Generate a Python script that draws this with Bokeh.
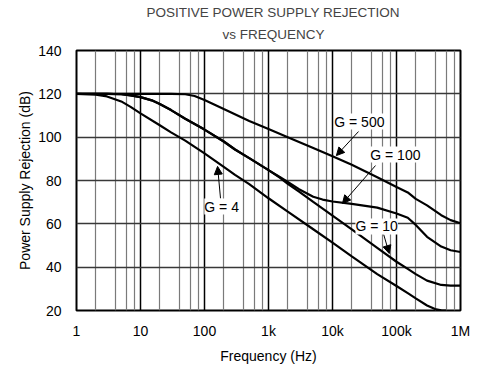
from bokeh.plotting import figure
from bokeh.models import Range1d, FixedTicker, Label, Arrow, NormalHead, Title
from bokeh.embed import file_html
from bokeh.resources import INLINE

# ---- data ----
x_ticks = [1, 10, 100, 1000, 10000, 100000, 1000000]
x_tick_labels = ["1", "10", "100", "1k", "10k", "100k", "1M"]
x_minor = [2, 4, 6, 8, 20, 40, 60, 80, 200, 400, 600, 800,
           2000, 4000, 6000, 8000, 20000, 40000, 60000, 80000,
           200000, 400000, 600000, 800000]
y_ticks = [20, 40, 60, 80, 100, 120, 140]
y_grid = [40, 60, 80, 100, 120]

freq_g500 = [1, 10, 30, 50, 70, 100, 200, 500, 1000, 2000, 5000, 10000,
             20000, 50000, 100000, 150000, 200000, 300000, 500000, 700000, 1000000]
db_g500 = [120, 120, 120, 119.8, 119, 117.2, 113, 107.5, 103.8, 100, 95, 91.2,
           87.3, 81.5, 77, 74.5, 71.5, 68.5, 64, 61.7, 60.3]

freq_g100 = [1, 3, 5, 7, 10, 15, 20, 30, 50, 100, 200, 300, 500, 1000, 1500,
             2000, 3000, 5000, 7000, 10000, 20000, 50000, 100000, 150000,
             200000, 300000, 500000, 700000, 1000000]
db_g100 = [120, 120, 119.8, 119.3, 118.5, 117, 115.3, 112.5, 108.5, 103.5, 98,
           94.3, 90.3, 84.8, 81.6, 79.3, 76, 72.5, 71.2, 70.3, 69.2, 67.5, 64.8,
           62.8, 59.5, 54, 49.5, 47.8, 47]

freq_g10 = [1, 3, 5, 7, 10, 15, 20, 30, 50, 100, 200, 300, 500, 1000, 1500,
            2000, 3000, 5000, 10000, 20000, 50000, 100000, 150000, 200000,
            300000, 500000, 700000, 1000000]
db_g10 = [120, 120, 119.8, 119.3, 118.5, 117, 115.3, 112.5, 108.5, 103.5, 98,
          94.3, 90.3, 84.8, 81.3, 78.5, 74.9, 70.1, 63.8, 57.4, 48.9, 42.5,
          39.2, 36.8, 33.8, 31.8, 31.5, 31.5]

freq_g4 = [1, 2, 3, 5, 7, 10, 20, 30, 50, 100, 200, 300, 500, 1000, 2000,
           5000, 10000, 20000, 50000, 100000, 150000, 200000, 300000, 400000,
           500000, 600000]
db_g4 = [120, 119.6, 118.8, 116.5, 114, 111, 105.5, 102.2, 98.4, 92.5, 86.3,
         82.6, 78.3, 71.8, 65.6, 57.5, 51.3, 45, 36.8, 31.3, 28, 25.6, 22.3,
         20.7, 20.1, 20]

FONT = "Liberation Sans"
FS = "14px"
TFS = "13.5px"

p = figure(frame_width=384, frame_height=260, x_axis_type="log",
           x_range=Range1d(1, 1000000), y_range=Range1d(20, 140),
           output_backend="svg", toolbar_location=None,
           min_border_left=76, min_border_right=12,
           min_border_top=50, min_border_bottom=40)

p.add_layout(Title(text="vs FREQUENCY", align="left", offset=146,
                   text_font=FONT, text_font_size=TFS,
                   text_font_style="normal", standoff=17), "above")
p.add_layout(Title(text="POSITIVE POWER SUPPLY REJECTION", align="left",
                   offset=70, text_font=FONT, text_font_size=TFS,
                   text_font_style="normal", standoff=-7), "above")

p.outline_line_color = "black"
p.outline_line_width = 2
p.outline_line_alpha = 1
p.background_fill_color = "white"
p.border_fill_color = "white"

p.xaxis.ticker = FixedTicker(ticks=x_ticks, minor_ticks=[])
p.xaxis.major_label_overrides = dict(zip(x_ticks, x_tick_labels))
p.yaxis.ticker = FixedTicker(ticks=y_ticks, minor_ticks=[])

p.axis.axis_line_color = None
p.axis.major_tick_line_color = None
p.axis.minor_tick_line_color = None
p.axis.major_label_text_font = FONT
p.axis.major_label_text_font_size = FS
p.axis.major_label_text_color = "black"
p.axis.axis_label_text_font = FONT
p.axis.axis_label_text_font_size = FS
p.axis.axis_label_text_font_style = "normal"
p.axis.axis_label_text_color = "black"
p.xaxis.axis_label = "Frequency (Hz)"
p.yaxis.axis_label = "Power Supply Rejection (dB)"
p.xaxis.major_label_standoff = 6
p.yaxis.major_label_standoff = 9
p.xaxis.axis_label_standoff = 6
p.yaxis.axis_label_standoff = 2

p.xgrid.ticker = FixedTicker(ticks=x_ticks, minor_ticks=x_minor)
p.xgrid.grid_line_color = "black"
p.xgrid.grid_line_width = 1.5
p.xgrid.grid_line_alpha = 1
p.xgrid.minor_grid_line_color = "#7a7a7a"
p.xgrid.minor_grid_line_width = 1.2
p.ygrid.ticker = FixedTicker(ticks=y_grid, minor_ticks=[])
p.ygrid.grid_line_color = "#383838"
p.ygrid.grid_line_width = 1.5
p.ygrid.grid_line_alpha = 1

for fx, dy in [(freq_g500, db_g500), (freq_g100, db_g100),
               (freq_g10, db_g10), (freq_g4, db_g4)]:
    p.line(fx, dy, line_color="black", line_width=2.2)

arrows = [
    (25500, 102.6, 11500, 91.5),
    (47000, 86.9, 14300, 69.4),
    (63000, 55.1, 77000, 46.3),
    (178, 71.7, 160, 86.5),
]
for xs, ys, xe, ye in arrows:
    p.add_layout(Arrow(end=NormalHead(size=8, fill_color="black",
                                      line_color="black", line_width=1),
                       x_start=xs, y_start=ys, x_end=xe, y_end=ye,
                       line_color="black", line_width=1))

labels = [
    (26300, 107.2, "G = 500"),
    (96000, 92.0, "G = 100"),
    (49000, 58.8, "G = 10"),
    (185, 68.0, "G = 4"),
]
for lx, ly, lt in labels:
    p.add_layout(Label(x=lx, y=ly, text=lt, text_align="center",
                       text_baseline="middle", text_font=FONT,
                       text_font_size=FS, text_color="black",
                       background_fill_color="white"))

open("out.html", "w").write(file_html(p, INLINE))
